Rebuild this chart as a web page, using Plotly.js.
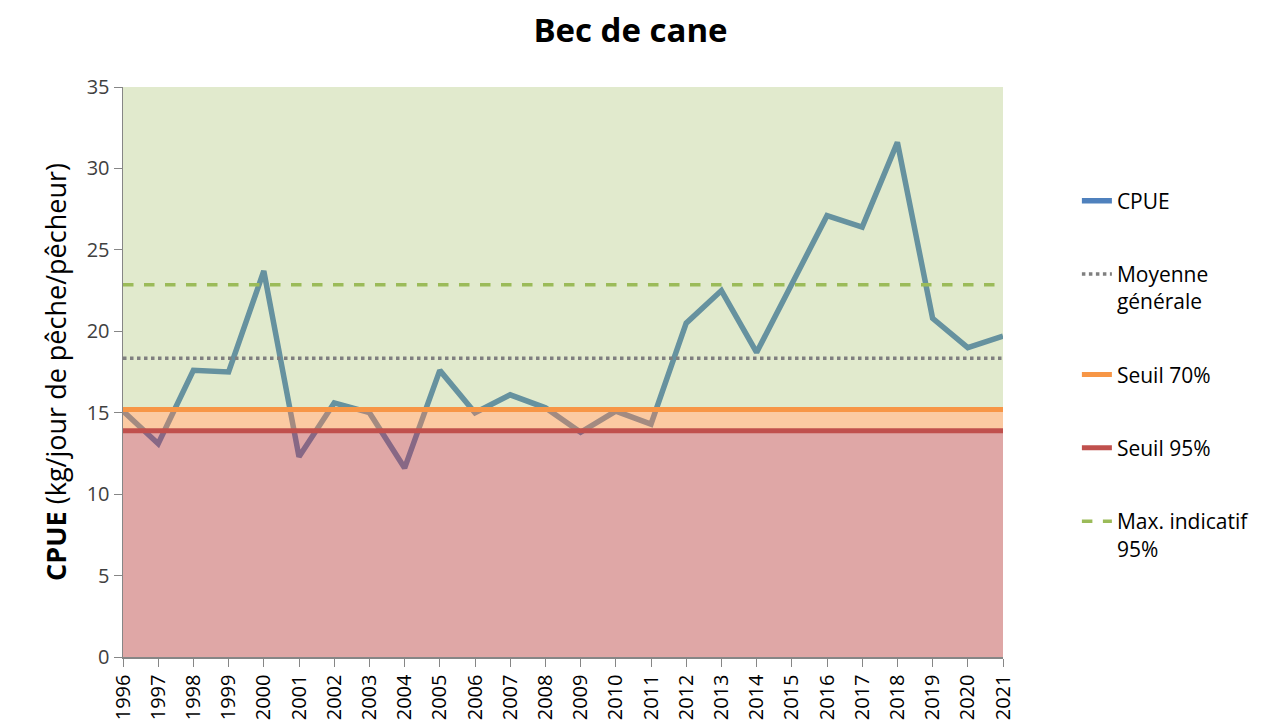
<!DOCTYPE html>
<html>
<head>
<meta charset="utf-8">
<script src="https://cdn.plot.ly/plotly-3.0.1.min.js"></script>
<style>html,body{margin:0;padding:0;background:#fff;}#chart{width:1261px;height:728px;}</style>
</head>
<body>
<div id="chart"></div>
<script>
const years = [1996,1997,1998,1999,2000,2001,2002,2003,2004,2005,2006,2007,2008,2009,2010,2011,2012,2013,2014,2015,2016,2017,2018,2019,2020,2021];
const cpue = [15.1,13.1,17.6,17.5,23.7,12.3,15.6,15.0,11.6,17.6,15.0,16.1,15.3,13.8,15.1,14.3,20.5,22.5,18.7,22.9,27.1,26.4,31.6,20.8,19.0,19.7];
const moyenneGenerale = 18.35;
const seuil70 = 15.2;
const seuil95 = 13.9;
const maxIndicatif95 = 22.85;
const yMin = 0, yMax = 35;
const labels = ["CPUE","Moyenne<br>générale","Seuil 70%","Seuil 95%","Max. indicatif<br>95%"];

const FONT = "'Open Sans', 'Noto Sans', sans-serif";
const x0 = years[0], x1 = years[years.length-1];

const traces = [{
  x: years, y: cpue, type: 'scatter', mode: 'lines', name: labels[0],
  line: {color: '#4F81BD', width: 5.5}, legendgroup: 'g1', legendrank: 1, hoverinfo: 'x+y'
}];

function band(lo, hi, color) {
  return {type:'rect', xref:'x', yref:'y', x0:x0, x1:x1, y0:lo, y1:hi, fillcolor:color, line:{width:0}, layer:'above'};
}
function hline(v, color, width, dash, name, rank) {
  return {type:'line', xref:'x', yref:'y', x0:x0, x1:x1, y0:v, y1:v, layer:'above',
    line:{color:color, width:width, dash:dash}, showlegend:true, name:name, legendgroup:'g'+rank, legendrank:rank};
}

const shapes = [
  band(seuil70, yMax, 'rgba(155,187,89,0.3)'),
  band(seuil95, seuil70, 'rgba(247,150,70,0.5)'),
  band(yMin, seuil95, 'rgba(192,80,77,0.5)'),
  hline(moyenneGenerale, '#7F7F7F', 3.5, 'dot', labels[1], 2),
  hline(maxIndicatif95, '#9BBB59', 3.5, 'dash', labels[4], 5),
  hline(seuil70, '#F79646', 5, 'solid', labels[2], 3),
  hline(seuil95, '#C0504D', 5, 'solid', labels[3], 4)
];

const layout = {
  width: 1261, height: 728,
  margin: {l: 123, r: 258, t: 87, b: 71, pad: 0, autoexpand: false},
  paper_bgcolor: '#fff', plot_bgcolor: '#fff',
  font: {family: FONT, color: '#404040'},
  title: {text: '<b>Bec de cane</b>', x: 0.5, xref: 'container', xanchor: 'center', y: 0.958, yref: 'container', yanchor: 'middle',
    font: {family: FONT, size: 33, color: '#000'}},
  xaxis: {range: [x0, x1], tickmode: 'array', tickvals: years, ticktext: years.map(String),
    tickangle: -90, tickfont: {size: 20, color: '#000'}, ticks: 'outside', ticklen: 8, tickcolor: '#868686',
    showline: true, linecolor: '#868686', linewidth: 1.5, showgrid: false, zeroline: false, automargin: false, fixedrange: true},
  yaxis: {range: [yMin, yMax], dtick: 5, tick0: 0, tickfont: {size: 20, color: '#404040'},
    ticks: 'outside', ticklen: 8, tickcolor: '#868686', showline: true, linecolor: '#868686', linewidth: 1.5,
    showgrid: false, zeroline: false, automargin: false, fixedrange: true,
    title: {text: '<b>CPUE</b> (kg/jour de pêche/pêcheur)', font: {size: 27, color: '#000'}, standoff: 12}},
  showlegend: true,
  legend: {xref: 'container', x: 0.854, xanchor: 'left', y: 0.836, yanchor: 'top', traceorder: 'grouped', tracegroupgap: 43,
    font: {family: FONT, size: 21, color: '#000'}, bgcolor: 'rgba(0,0,0,0)', valign: 'top'},
  shapes: shapes
};

Plotly.newPlot('chart', traces, layout, {displayModeBar: false, staticPlot: true});
</script>
</body>
</html>
